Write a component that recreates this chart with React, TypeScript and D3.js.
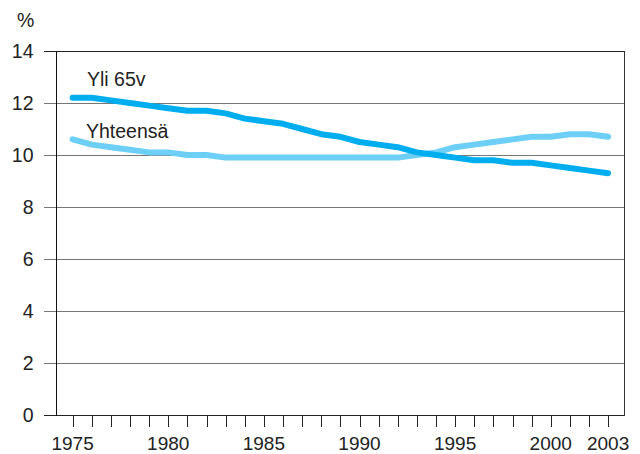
import React from "react";
import * as d3 from "d3";

const years = [1975,1976,1977,1978,1979,1980,1981,1982,1983,1984,1985,1986,1987,1988,1989,1990,1991,1992,1993,1994,1995,1996,1997,1998,1999,2000,2001,2002,2003];
const yli65 = [12.2,12.2,12.1,12.0,11.9,11.8,11.7,11.7,11.6,11.4,11.3,11.2,11.0,10.8,10.7,10.5,10.4,10.3,10.1,10.0,9.9,9.8,9.8,9.7,9.7,9.6,9.5,9.4,9.3];
const yhteensa = [10.6,10.4,10.3,10.2,10.1,10.1,10.0,10.0,9.9,9.9,9.9,9.9,9.9,9.9,9.9,9.9,9.9,9.9,10.0,10.1,10.3,10.4,10.5,10.6,10.7,10.7,10.8,10.8,10.7];
const yTicks = [0,2,4,6,8,10,12,14];
const xLabels = [1975,1980,1985,1990,1995,2000,2003];

const FONT = "'Liberation Sans', Arial, Helvetica, sans-serif";
const FS = 19.5;

export default function App() {
  const W = 640, H = 454;
  const x = d3.scaleLinear().domain([1974.13, 2003.83]).range([56, 624]);
  const y = d3.scaleLinear().domain([0, 14]).range([415, 51]);
  const line = d3.line<number>().x((_, i) => x(years[i])).y((d) => y(d));

  return (
    <div style={{ position: "absolute", left: 0, top: 0 }}>
      <svg width={W} height={H} style={{ display: "block", background: "#fff" }}>
        {yTicks.map((t) => (
          <line key={"g" + t} x1={44} x2={624} y1={y(t) + 0.5} y2={y(t) + 0.5}
            stroke={t === 14 || t === 0 ? "#222" : "#777"} strokeWidth={1} />
        ))}
        <line x1={56.5} x2={56.5} y1={51} y2={416} stroke="#111" strokeWidth={1} />
        <line x1={624.5} x2={624.5} y1={51} y2={416} stroke="#333" strokeWidth={1} />
        {years.map((yr) => (
          <line key={"t" + yr} x1={Math.round(x(yr)) + 0.5} x2={Math.round(x(yr)) + 0.5} y1={415} y2={427} stroke="#222" strokeWidth={1} />
        ))}
        {yTicks.map((t) => (
          <text key={"l" + t} x={33.5} y={y(t) + 6.7} textAnchor="end" fontSize={FS} fontFamily={FONT} fill="#222">{t}</text>
        ))}
        <text x={17} y={27} fontSize={FS} fontFamily={FONT} fill="#222">%</text>
        {xLabels.map((yr) => (
          <text key={"x" + yr} x={x(yr)} y={449.5} textAnchor="middle" fontSize={19} fontFamily={FONT} fill="#222">{yr}</text>
        ))}
        <path d={line(yhteensa) || ""} fill="none" stroke="#6DCFF6" strokeWidth={6} strokeLinecap="round" strokeLinejoin="round" />
        <path d={line(yli65) || ""} fill="none" stroke="#00AEEF" strokeWidth={6} strokeLinecap="round" strokeLinejoin="round" />
        <text x={87} y={86} fontSize={FS} fontFamily={FONT} fill="#222">Yli 65v</text>
        <text x={86} y={137.5} fontSize={FS} fontFamily={FONT} fill="#222">Yhteensä</text>
      </svg>
    </div>
  );
}
